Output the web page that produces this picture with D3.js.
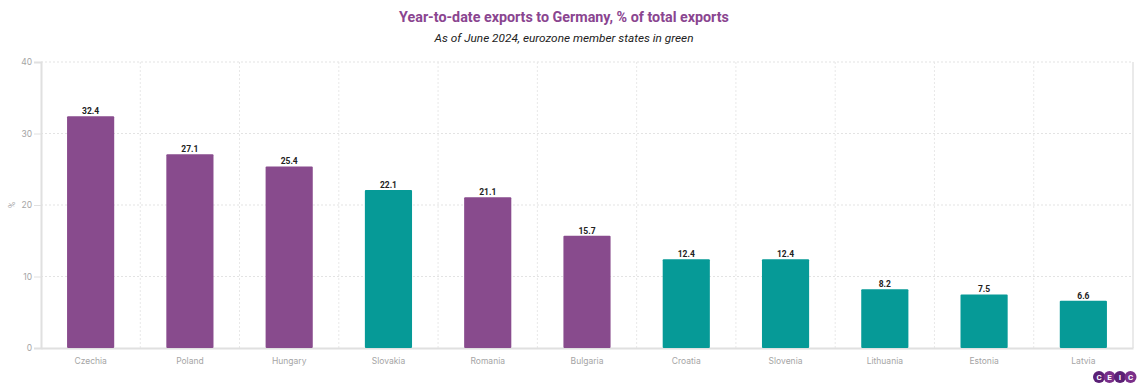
<!DOCTYPE html>
<html><head><meta charset="utf-8">
<script src="https://cdn.jsdelivr.net/npm/d3@7/dist/d3.min.js"></script>
<style>body{margin:0;background:#fff;}svg{display:block;font-family:Roboto,sans-serif;}</style>
</head><body>
<svg id="c" width="1140" height="390"></svg>
<script>
const categories = ["Czechia","Poland","Hungary","Slovakia","Romania","Bulgaria","Croatia","Slovenia","Lithuania","Estonia","Latvia"];
const values = [32.4,27.1,25.4,22.1,21.1,15.7,12.4,12.4,8.2,7.5,6.6];
const eurozone = [false,false,false,true,false,false,true,true,true,true,true];
const yTicks = [0,10,20,30,40];
const title = "Year-to-date exports to Germany, % of total exports";
const subtitle = "As of June 2024, eurozone member states in green";

const svg = d3.select("#c");
const m = {l:41, r:1133, t:62, b:348};
const x = d3.scaleBand().domain(categories).range([m.l, m.r]).paddingInner(0).paddingOuter(0);
const y = d3.scaleLinear().domain([0,40]).range([m.b, m.t]);

svg.append("text").attr("x",564).attr("y",22).attr("text-anchor","middle")
  .attr("font-size",14.3).attr("font-weight","bold").attr("fill","#8a4590").text(title);
svg.append("text").attr("x",564).attr("y",42).attr("text-anchor","middle")
  .attr("font-size",11.8).attr("font-style","italic").attr("fill","#222").text(subtitle);

// horizontal grid
svg.append("g").selectAll("line").data(yTicks.filter(d=>d>0)).join("line")
  .attr("x1",m.l).attr("x2",m.r).attr("y1",d=>y(d)).attr("y2",d=>y(d))
  .attr("stroke","#e3e3e3").attr("stroke-dasharray","2,2");
// vertical grid
svg.append("g").selectAll("line").data(categories.slice(1)).join("line")
  .attr("x1",d=>x(d)).attr("x2",d=>x(d)).attr("y1",m.t).attr("y2",m.b)
  .attr("stroke","#e8e8e8").attr("stroke-dasharray","2,2");
// right border
svg.append("line").attr("x1",m.r).attr("x2",m.r).attr("y1",m.t).attr("y2",m.b).attr("stroke","#e3e3e3").attr("stroke-width",1.5);

// y axis
const ya = svg.append("g").attr("transform",`translate(${m.l},0)`)
  .call(d3.axisLeft(y).tickValues(yTicks).tickSize(7).tickPadding(2));
ya.select(".domain").attr("stroke","#e0e0e0").attr("stroke-width",2);
ya.selectAll(".tick line").attr("stroke","#e0e0e0");
ya.selectAll("text").attr("fill","#a5a5a5").attr("font-size",8.5).attr("font-family","Inter, sans-serif");

// x axis
const xa = svg.append("g").attr("transform",`translate(0,${m.b})`)
  .call(d3.axisBottom(x).tickSize(0).tickPadding(10));
xa.select(".domain").attr("stroke","#e0e0e0").attr("stroke-width",2);
xa.selectAll("text").attr("fill","#a5a5a5").attr("font-size",8.5).attr("font-family","Inter, sans-serif");

svg.append("text").attr("transform","translate(15,205) rotate(-90)").attr("text-anchor","middle")
  .attr("font-size",8.5).attr("fill","#a5a5a5").text("%");

const bw = x.bandwidth()*0.475;
svg.append("g").selectAll("rect").data(categories).join("rect")
  .attr("x",(d)=>x(d)+x.bandwidth()/2-bw/2).attr("width",bw)
  .attr("y",(d,i)=>y(values[i])).attr("height",(d,i)=>y(0)-y(values[i]))
  .attr("rx",1)
  .attr("fill",(d,i)=>eurozone[i]?"#069a97":"#884b8d");

svg.append("g").selectAll("text").data(categories).join("text")
  .attr("x",d=>x(d)+x.bandwidth()/2).attr("y",(d,i)=>y(values[i])-2)
  .attr("text-anchor","middle").attr("font-size",8.5).attr("font-weight","bold").attr("fill","#222")
  .text((d,i)=>values[i].toFixed(1));

// logo
const logo = svg.append("g");
["C","E","I","C"].forEach((ch,i)=>{
  const cx = 1099 + i*10.5;
  logo.append("circle").attr("cx",cx).attr("cy",377).attr("r",6).attr("fill",i%2?"#7a2f8a":"#5b2076");
  logo.append("text").attr("x",cx).attr("y",380).attr("text-anchor","middle").attr("font-size",8)
    .attr("font-weight","bold").attr("fill","#fff").text(ch);
});
</script>
</body></html>
